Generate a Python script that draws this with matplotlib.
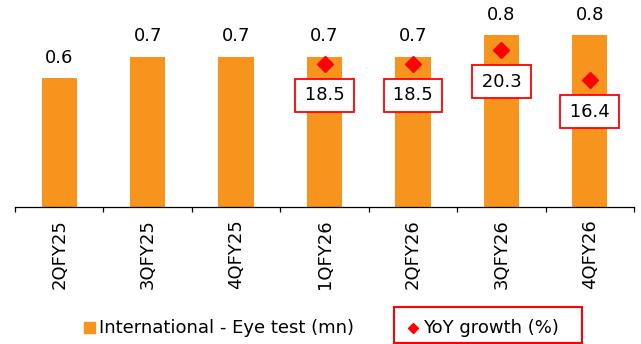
import matplotlib
matplotlib.use("Agg")
import matplotlib.pyplot as plt
from matplotlib.patches import Rectangle
from matplotlib.lines import Line2D
import numpy as np

# Data
quarters = ["2QFY25", "3QFY25", "4QFY25", "1QFY26", "2QFY26", "3QFY26", "4QFY26"]
eye_tests_mn = [0.6, 0.7, 0.7, 0.7, 0.7, 0.8, 0.8]
yoy_quarters = ["1QFY26", "2QFY26", "3QFY26", "4QFY26"]
yoy_growth = [18.5, 18.5, 20.3, 16.4]

ORANGE = "#F7941D"
RED = "#FF0000"
FS = 13

W, H = 641, 344
fig = plt.figure(figsize=(W / 100, H / 100), dpi=100)
plt.rcParams["font.family"] = ["DejaVu Sans"]

# plot area in pixel terms: left 15, right 634, top 14, bottom 207
ax = fig.add_axes([15 / W, (H - 207) / H, (634 - 15) / W, (207 - 14) / H])
ax2 = ax.twinx()

x = np.arange(len(quarters))
ax.bar(x, eye_tests_mn, width=0.4, color=ORANGE, zorder=2)
ax.set_xlim(-0.5, len(quarters) - 0.5)
ax.set_ylim(0, 0.9)

for xi, v in zip(x, eye_tests_mn):
    ax.annotate(f"{v:.1f}", (xi, v), xytext=(0, 15), textcoords="offset points",
                ha="center", va="center", fontsize=FS, color="black")

# YoY growth on secondary scale
yx = [quarters.index(q) for q in yoy_quarters]
ax2.set_ylim(0, 25)
ax2.plot(yx, yoy_growth, linestyle="none", marker="D", markersize=8.5,
         color=RED, zorder=3)
for xi, v in zip(yx, yoy_growth):
    ax2.annotate(f"\u200a{v:.1f}\u200a", (xi, v), xytext=(0, -22.5),
                 textcoords="offset points", ha="center", va="center",
                 fontsize=FS, color="black",
                 bbox=dict(boxstyle="square,pad=0.42", fc="white", ec=RED, lw=1.3))

# axes styling
for a in (ax, ax2):
    for s in ("top", "right", "left"):
        a.spines[s].set_visible(False)
    a.set_yticks([])
ax2.spines["bottom"].set_visible(False)
ax.spines["bottom"].set_color("black")
ax.spines["bottom"].set_linewidth(0.9)

ax.set_xticks(x)
ax.set_xticklabels(quarters, rotation=90, fontsize=FS, va="top", ha="center")
ax.tick_params(axis="x", which="major", length=0, pad=9)
ax.set_xticks(np.arange(-0.5, len(quarters), 1.0), minor=True)
ax.tick_params(axis="x", which="minor", length=3.8, width=0.9, color="black",
               direction="out")

# legend drawn in figure pixel coordinates
def fx(px):
    return px / W

def fy(py):
    return (H - py) / H

fig.patches.append(Rectangle((fx(84), fy(333)), fx(11), 11 / H,
                             transform=fig.transFigure, color=ORANGE))
fig.text(fx(99), fy(328), "International - Eye test (mn)", fontsize=FS,
         va="center", ha="left", color="black")
fig.patches.append(Rectangle((fx(394), fy(343)), fx(188), 36 / H,
                             transform=fig.transFigure, fill=False,
                             ec=RED, lw=1.5))
fig.lines.append(Line2D([fx(413)], [fy(328)], transform=fig.transFigure,
                        marker="D", markersize=5, color=RED, linestyle="none"))
fig.text(fx(423), fy(328), "YoY growth (%)", fontsize=FS,
         va="center", ha="left", color="black")

fig.savefig("out.png", dpi=100)
